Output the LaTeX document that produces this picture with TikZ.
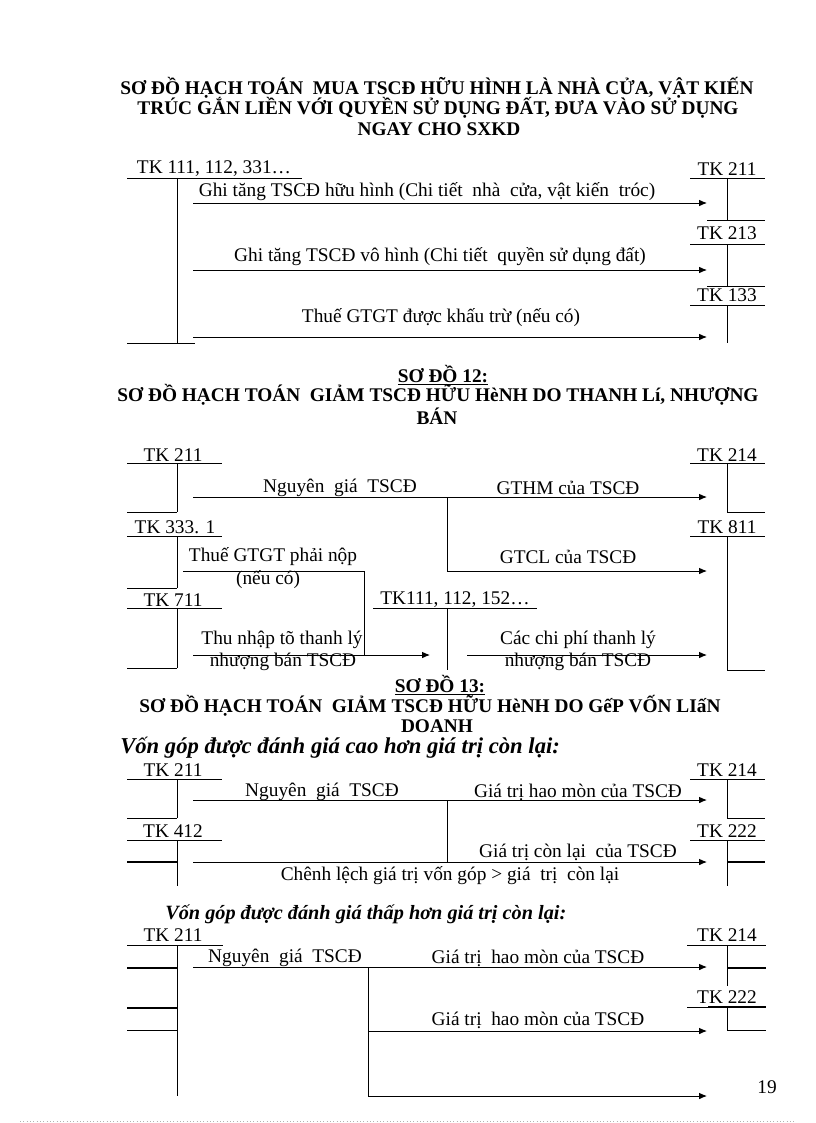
\documentclass[tikz,border=0pt]{standalone}
\usepackage{fontspec}
\setmainfont{Liberation Serif}
\usetikzlibrary{arrows.meta}
\begin{document}
\begin{tikzpicture}[x=0.75pt,y=-0.75pt,
  ln/.style={line width=0.7pt},
  thk/.style={line width=1.6pt},
  arr/.style={line width=0.7pt,-{Latex[length=6pt,width=5pt]}},
  lbl/.style={inner sep=0pt,font=\fontsize{14.5}{16}\selectfont},
  ttl/.style={inner sep=0pt,font=\fontsize{14.5}{16}\selectfont\bfseries},
  sub/.style={inner sep=0pt,anchor=west,font=\fontsize{17}{18}\selectfont\bfseries\itshape},
  subb/.style={inner sep=0pt,anchor=west,font=\fontsize{15.2}{17}\selectfont\bfseries\itshape}]
\useasboundingbox (0,0) rectangle (816,1123);

% ---------- Title 1
\node[ttl] (t1a) at (437,88) {SƠ ĐỒ HẠCH TOÁN\ \ MUA TSCĐ HỮU HÌNH LÀ NHÀ CỬA, VẬT KIẾN};
\node[ttl] (t1b) at (438,108) {TRÚC GẮN LIỀN VỚI QUYỀN SỬ DỤNG ĐẤT, ĐƯA VÀO SỬ DỤNG};
\node[ttl] (t1c) at (439,129) {NGAY CHO SXKD};

% ---------- Diagram 1
\node[lbl] (a1) at (214,169) {TK 111, 112, 331…};
\coordinate (a1ul) at (127,178); \coordinate (a1ur) at (302,178);
\coordinate (a1t) at (177,178); \coordinate (a1b) at (177,343);
\coordinate (a1bl) at (127,343); \coordinate (a1br) at (195,343);
\draw[ln] (a1ul) -- (a1ur);
\draw[ln] (a1t) -- (a1b);
\draw[ln] (a1bl) -- (a1br);

\node[lbl] (r211) at (727,169) {TK 211};
\draw[ln] (690,178) coordinate (r211l) -- (765,178) coordinate (r211r);
\draw[ln] (727,178) coordinate (r211t) -- (727,220) coordinate (r211b);
\draw[ln] (707,220) coordinate (r211bl) -- (765,220) coordinate (r211br);

\node[lbl] (r213) at (727,233) {TK 213};
\draw[ln] (690,244) coordinate (r213l) -- (765,244) coordinate (r213r);
\draw[ln] (727,244) coordinate (r213t) -- (727,286) coordinate (r213b);
\draw[ln] (707,286) coordinate (r213bl) -- (765,286) coordinate (r213br);

\node[lbl] (r133) at (727,295) {TK 133};
\draw[ln] (690,305) coordinate (r133l) -- (765,305) coordinate (r133r);
\draw[ln] (727,305) coordinate (r133t) -- (727,343) coordinate (r133b);

\coordinate (p1s) at (193,203); \coordinate (p1e) at (707,203);
\coordinate (p2s) at (193,270); \coordinate (p2e) at (707,270);
\coordinate (p3s) at (193,337); \coordinate (p3e) at (707,337);
\draw[arr] (p1s) -- (p1e);
\draw[arr] (p2s) -- (p2e);
\draw[arr] (p3s) -- (p3e);
\node[lbl] (l1) at (427,192) {Ghi tăng TSCĐ hữu hình (Chi tiết\ \ nhà\ \ cửa, vật kiến\ \ tróc)};
\node[lbl] (l2) at (440,257) {Ghi tăng TSCĐ vô hình (Chi tiết\ \ quyền sử dụng đất)};
\node[lbl] (l3) at (441,318) {Thuế GTGT được khấu trừ (nếu có)};

% ---------- Title 2
\node[ttl] (t2a) at (443,375) {\underline{SƠ ĐỒ 12:}};
\node[ttl] (t2b) at (438,395) {SƠ ĐỒ HẠCH TOÁN\ \ GIẢM TSCĐ HỮU HèNH DO THANH Lí, NHƯỢNG};
\node[ttl] (t2c) at (437,416) {BÁN};

% ---------- Diagram 2
\node[lbl] (b211) at (173,455) {TK 211};
\draw[ln] (127,463) coordinate (b211l) -- (222,463) coordinate (b211r);
\draw[ln] (177,463) coordinate (b211t) -- (177,512) coordinate (b211b);
\draw[ln] (127,512) coordinate (b211bl) -- (b211b);

\node[lbl] (b214) at (727,455) {TK 214};
\draw[ln] (690,463) coordinate (b214l) -- (765,463) coordinate (b214r);
\draw[ln] (727,463) coordinate (b214t) -- (727,512) coordinate (b214b);
\draw[ln] (b214b) -- (765,512) coordinate (b214br);

\node[lbl] (b333) at (175,527) {TK 333. 1};
\draw[ln] (127,536) coordinate (b333l) -- (222,536) coordinate (b333r);
\draw[ln] (177,536) coordinate (b333t) -- (177,588) coordinate (b333b);
\draw[ln] (127,588) coordinate (b333bl) -- (b333b);

\node[lbl] (b811) at (727,527) {TK 811};
\draw[ln] (690,536) coordinate (b811l) -- (765,536) coordinate (b811r);
\draw[ln] (727,536) coordinate (b811t) -- (727,670) coordinate (b811b);
\draw[ln] (b811b) -- (765,670) coordinate (b811br);

\node[lbl] (b711) at (173,600) {TK 711};
\draw[ln] (127,608) coordinate (b711l) -- (222,608) coordinate (b711r);
\draw[ln] (177,608) coordinate (b711t) -- (177,668) coordinate (b711b);
\draw[ln] (127,668) coordinate (b711bl) -- (b711b);

\node[lbl] (b111) at (455,600) {TK111, 112, 152…};
\draw[ln] (373,608) coordinate (b111l) -- (537,608) coordinate (b111r);
\draw[ln] (447,608) coordinate (b111t) -- (447,670) coordinate (b111b);

\coordinate (q1s) at (193,497); \coordinate (q1m) at (447,497); \coordinate (q1e) at (707,497);
\coordinate (q2c) at (447,571); \coordinate (q2e) at (707,571);
\draw[arr] (q1s) -- (q1e);
\draw[arr] (q1m) -- (q2c) -- (q2e);
\node[lbl] (m1) at (340,488) {Nguyên\ \ giá\ \ TSCĐ};
\node[lbl] (m2) at (568,488) {GTHM của TSCĐ};
\node[lbl] (m3) at (568,557) {GTCL của TSCĐ};

\coordinate (q3s) at (183,571); \coordinate (q3c) at (364,571); \coordinate (q3e) at (364,655);
\draw[ln] (q3s) -- (q3c) -- (q3e);
\node[lbl] (m4) at (273,557) {Thuế GTGT phải nộp};
\node[lbl] (m5) at (268,580) {(nếu có)};

\coordinate (q4s) at (193,655); \coordinate (q4e) at (430,655);
\draw[arr] (q4s) -- (q4e);
\node[lbl] (m6) at (282,640) {Thu nhập tõ thanh lý};
\node[lbl] (m7) at (283,662) {nhượng bán TSCĐ};

\coordinate (q5s) at (467,655); \coordinate (q5e) at (707,655);
\draw[arr] (q5s) -- (q5e);
\node[lbl] (m8) at (578,640) {Các chi phí thanh lý};
\node[lbl] (m9) at (578,662) {nhượng bán TSCĐ};

% ---------- Title 3
\node[ttl] (t3a) at (440,685) {\underline{SƠ ĐỒ 13:}};
\node[ttl] (t3b) at (430,706) {SƠ ĐỒ HẠCH TOÁN\ \ GIẢM TSCĐ HỮU HèNH DO GếP VỐN LIấN};
\node[ttl] (t3c) at (437,726) {DOANH};
\node[sub] (s1) at (120,748) {Vốn góp được đánh giá cao hơn giá trị còn lại:};

% ---------- Diagram 3
\node[lbl] (c211) at (173,770) {TK 211};
\draw[ln] (127,779) coordinate (c211l) -- (222,779) coordinate (c211r);
\draw[ln] (177,779) coordinate (c211t) -- (177,818) coordinate (c211b);
\draw[ln] (127,818) coordinate (c211bl) -- (c211b);

\node[lbl] (c214) at (727,770) {TK 214};
\draw[ln] (690,779) coordinate (c214l) -- (765,779) coordinate (c214r);
\draw[ln] (727,779) coordinate (c214t) -- (727,818) coordinate (c214b);
\draw[ln] (c214b) -- (765,818) coordinate (c214br);

\node[lbl] (c412) at (173,831) {TK 412};
\draw[ln] (127,840) coordinate (c412l) -- (222,840) coordinate (c412r);
\draw[ln] (177,840) coordinate (c412t) -- (177,886) coordinate (c412b);
\draw[thk] (127,862) coordinate (c412kl) -- (177,862) coordinate (c412kr);

\node[lbl] (c222) at (727,831) {TK 222};
\draw[ln] (690,840) coordinate (c222l) -- (765,840) coordinate (c222r);
\draw[ln] (727,840) coordinate (c222t) -- (727,886) coordinate (c222b);
\draw[thk] (727,862) coordinate (c222kl) -- (765,862) coordinate (c222kr);

\coordinate (u1s) at (193,800); \coordinate (u1m) at (447,800); \coordinate (u1e) at (707,800);
\coordinate (u2m) at (447,862); \coordinate (u2s) at (193,862); \coordinate (u2e) at (707,862);
\draw[arr] (u1s) -- (u1e);
\draw[ln] (u1m) -- (u2m);
\draw[arr] (u2s) -- (u2e);
\node[lbl] (n1) at (322,792) {Nguyên\ \ giá\ \ TSCĐ};
\node[lbl] (n2) at (578,792) {Giá trị hao mòn của TSCĐ};
\node[lbl] (n3) at (578,852) {Giá trị còn lại\ \ của TSCĐ};
\node[lbl] (n4) at (450,876) {Chênh lệch giá trị vốn góp > giá\ \ trị\ \ còn lại};

% ---------- Diagram 4
\node[subb] (s2) at (165,914) {Vốn góp được đánh giá thấp hơn giá trị còn lại:};

\node[lbl] (d211) at (173,935) {TK 211};
\draw[ln] (127,945) coordinate (d211l) -- (223,945) coordinate (d211r);
\draw[ln] (177,945) coordinate (d211t) -- (177,1096) coordinate (d211b);
\draw[thk] (127,968) coordinate (d211k1) -- (177,968);
\draw[thk] (127,1008) coordinate (d211k2) -- (177,1008);
\draw[ln] (127,1030) coordinate (d211k3) -- (177,1030);

\node[lbl] (d214) at (727,935) {TK 214};
\draw[ln] (687,945) coordinate (d214l) -- (766,945) coordinate (d214r);
\draw[ln] (727,945) coordinate (d214t) -- (727,986) coordinate (d214b);
\draw[thk] (727,968) coordinate (d214k) -- (766,968);

\node[lbl] (d222) at (727,997) {TK 222};
\draw[ln] (687,1007) coordinate (d222l) -- (766,1007) coordinate (d222r);
\draw[thk] (708,1007) coordinate (d222k) -- (766,1007);
\draw[ln] (727,1007) coordinate (d222t) -- (727,1030) coordinate (d222b);
\draw[ln] (d222b) -- (766,1030);

\coordinate (v1s) at (193,967); \coordinate (v1m) at (368,967); \coordinate (v1e) at (707,967);
\coordinate (v2s) at (368,1031); \coordinate (v2e) at (707,1031);
\coordinate (v3s) at (368,1096); \coordinate (v3e) at (707,1096);
\draw[arr] (v1s) -- (v1e);
\draw[ln] (v1m) -- (v3s);
\draw[arr] (v2s) -- (v2e);
\draw[arr] (v3s) -- (v3e);
\node[lbl] (o1) at (285,958) {Nguyên\ \ giá\ \ TSCĐ};
\node[lbl] (o2) at (538,958) {Giá trị\ \ hao mòn của TSCĐ};
\node[lbl] (o3) at (538,1020) {Giá trị\ \ hao mòn của TSCĐ};

\node[lbl] (pg) at (767,1087) {19};
\draw[gray!60,line width=0.5pt,dotted] (20,1121) coordinate (dl) -- (796,1121) coordinate (dr);
\end{tikzpicture}
\end{document}
